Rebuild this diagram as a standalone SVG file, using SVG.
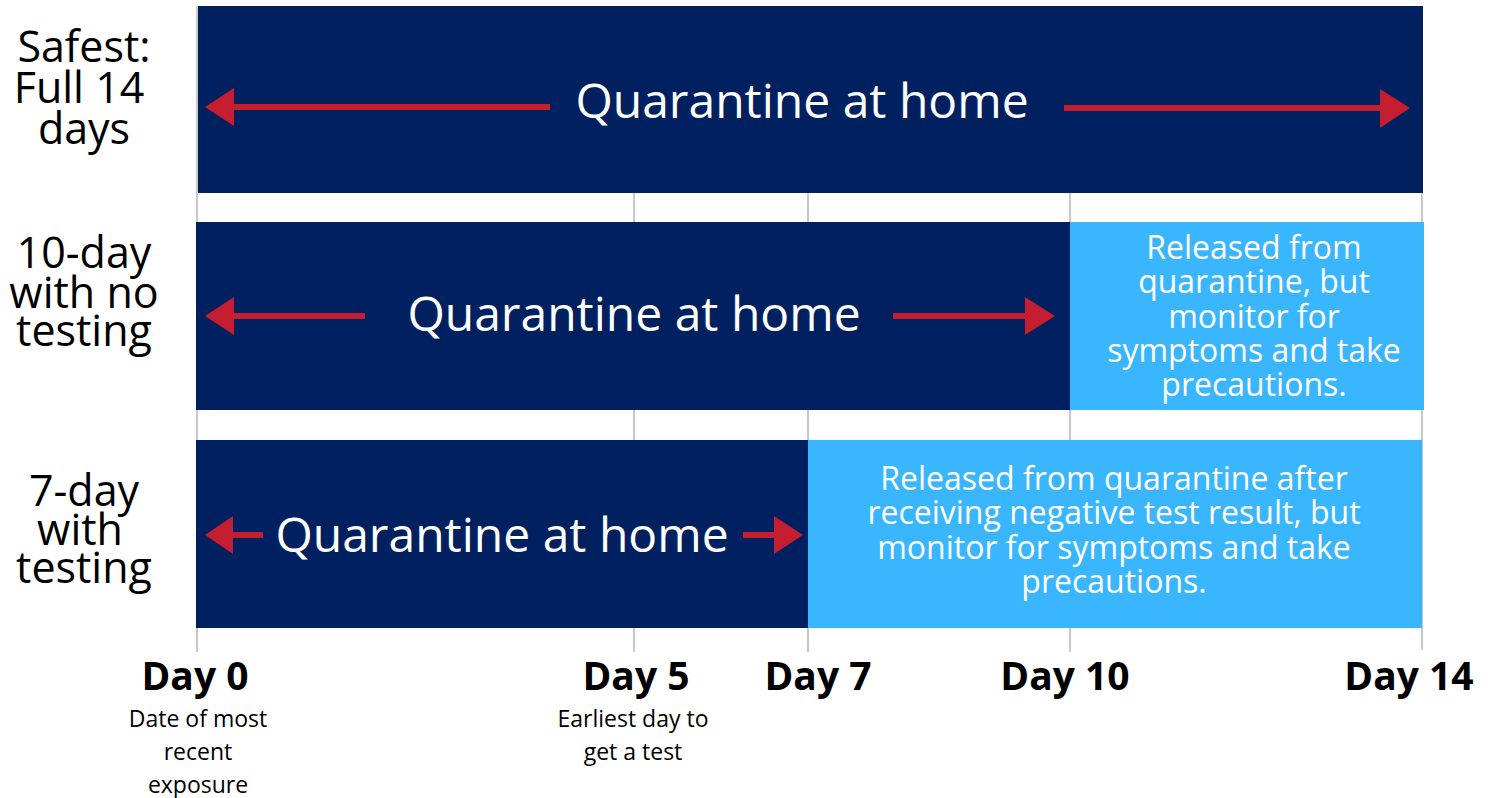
<svg xmlns="http://www.w3.org/2000/svg" width="1493" height="798" viewBox="0 0 1493 798">
<style>
.grid{stroke:#c8c8c8;stroke-width:2;fill:none}
.navy{fill:#002060}
.light{fill:#3ab6ff}
.red{fill:#c41e30}
.shaft{stroke:#c41e30;stroke-width:6}
.q{font-family:"Open Sans","Liberation Sans",sans-serif;font-size:48px;fill:#fff;text-anchor:middle}
.rel{font-family:"Open Sans","Liberation Sans",sans-serif;font-size:32px;fill:#fff;text-anchor:middle}
.row{font-family:"Open Sans","Liberation Sans",sans-serif;font-size:43px;fill:#000;text-anchor:middle}
.day{font-family:"Open Sans","Liberation Sans",sans-serif;font-size:39px;font-weight:bold;fill:#000;text-anchor:middle}
.sub{font-family:"Open Sans","Liberation Sans",sans-serif;font-size:23px;fill:#000;text-anchor:middle}
</style>
<g id="gridlines">
<line class="grid" x1="197" y1="6" x2="197" y2="652"/>
<line class="grid" x1="634" y1="6" x2="634" y2="652"/>
<line class="grid" x1="808" y1="6" x2="808" y2="652"/>
<line class="grid" x1="1070" y1="6" x2="1070" y2="652"/>
<line class="grid" x1="1422" y1="6" x2="1422" y2="650"/>
</g>
<g id="row1">
<rect class="navy" x="198" y="6" width="1225" height="187"/>
<text class="q" x="802" y="118">Quarantine at home</text>
</g>
<g id="row2">
<rect class="navy" x="196" y="222" width="875" height="188"/>
<rect class="light" x="1070" y="222" width="354" height="188"/>
<text class="q" x="634" y="331">Quarantine at home</text>
<text class="rel" x="1254" y="259">Released from</text>
<text class="rel" x="1254" y="293">quarantine, but</text>
<text class="rel" x="1254" y="328">monitor for</text>
<text class="rel" x="1254" y="362">symptoms and take</text>
<text class="rel" x="1254" y="396">precautions.</text>
</g>
<g id="row3">
<rect class="navy" x="196" y="440" width="613" height="188"/>
<rect class="light" x="808" y="440" width="614" height="188"/>
<text class="q" x="502" y="552">Quarantine at home</text>
<text class="rel" x="1114" y="490">Released from quarantine after</text>
<text class="rel" x="1114" y="524">receiving negative test result, but</text>
<text class="rel" x="1114" y="559">monitor for symptoms and take</text>
<text class="rel" x="1114" y="593">precautions.</text>
</g>
<g id="connectors">
<line class="shaft" x1="232" y1="107" x2="550" y2="107"/>
<polygon class="red" points="205,107 234,88 234,126"/>
<line class="shaft" x1="1064" y1="108" x2="1382" y2="108"/>
<polygon class="red" points="1410,108 1380,89 1380,128"/>
<line class="shaft" x1="232" y1="316" x2="365" y2="316"/>
<polygon class="red" points="205,316 234,297 234,335"/>
<line class="shaft" x1="893" y1="316" x2="1027" y2="316"/>
<polygon class="red" points="1055,316 1025,297 1025,335"/>
<line class="shaft" x1="231" y1="535" x2="263" y2="535"/>
<polygon class="red" points="205,535 233,516 233,554"/>
<line class="shaft" x1="743" y1="535" x2="776" y2="535"/>
<polygon class="red" points="803,535 774,516 774,554"/>
</g>
<g id="labels">
<text class="row" x="84" y="62">Safest:</text>
<text class="row" x="79" y="103">Full 14</text>
<text class="row" x="84" y="144">days</text>
<text class="row" x="84" y="268">10-day</text>
<text class="row" x="84" y="308">with no</text>
<text class="row" x="84" y="346">testing</text>
<text class="row" x="84" y="506">7-day</text>
<text class="row" x="80" y="545">with</text>
<text class="row" x="84" y="583">testing</text>
</g>
<g id="axis">
<text class="day" x="195" y="690">Day 0</text>
<text class="day" x="636" y="690">Day 5</text>
<text class="day" x="818" y="690">Day 7</text>
<text class="day" x="1065" y="690">Day 10</text>
<text class="day" x="1409" y="690">Day 14</text>
<text class="sub" x="198" y="727">Date of most</text>
<text class="sub" x="198" y="760">recent</text>
<text class="sub" x="198" y="793">exposure</text>
<text class="sub" x="633" y="727">Earliest day to</text>
<text class="sub" x="633" y="760">get a test</text>
</g>
</svg>
